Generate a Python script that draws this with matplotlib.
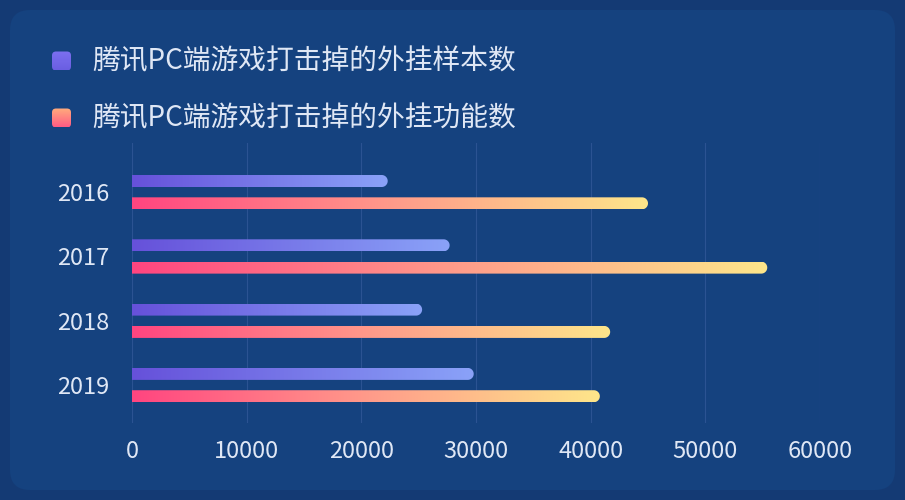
import numpy as np
import matplotlib
matplotlib.use('Agg')
from matplotlib import pyplot as plt
from matplotlib.colors import LinearSegmentedColormap
from matplotlib.patches import FancyBboxPatch, Polygon

plt.rcParams['font.family'] = ['Noto Sans CJK SC', 'DejaVu Sans']

years = ['2016', '2017', '2018', '2019']
samples = [22300, 27700, 25300, 29800]
functions = [45000, 55400, 41700, 40800]
series_names = ['腾讯PC端游戏打击掉的外挂样本数', '腾讯PC端游戏打击掉的外挂功能数']
xticks = [0, 10000, 20000, 30000, 40000, 50000, 60000]

purple = LinearSegmentedColormap.from_list('purple', ['#6651da', '#8aa2f8'])
pink = LinearSegmentedColormap.from_list('pink', ['#ff4580', '#ff9a8a', '#fde68a'])
txt_col = '#dfe7f5'

W, H = 905, 500
fig = plt.figure(figsize=(W / 100, H / 100), dpi=100)
fig.patch.set_facecolor('#143a74')

# background panel + legend
bg = fig.add_axes([0, 0, 1, 1])
bg.set_xlim(0, W)
bg.set_ylim(H, 0)
bg.axis('off')
bg.add_patch(FancyBboxPatch((10, 10), 885, 480, boxstyle='round,pad=0,rounding_size=20',
                            fc='#15427f', ec='none', zorder=0))

grad_v = np.linspace(0, 1, 64).reshape(-1, 1)
legend_maps = [LinearSegmentedColormap.from_list('lp', ['#7c70f0', '#6a5ee2']),
               LinearSegmentedColormap.from_list('lk', ['#ffac7c', '#ff5c84'])]
for i, (name, cm) in enumerate(zip(series_names, legend_maps)):
    yc = 61 + i * 57
    box = FancyBboxPatch((52, yc - 9.5), 19, 19, boxstyle='round,pad=0,rounding_size=4',
                         fc='none', ec='none')
    bg.add_patch(box)
    im = bg.imshow(grad_v, cmap=cm, extent=[52, 71, yc + 9.5, yc - 9.5], aspect='auto',
                   interpolation='bicubic', zorder=2)
    im.set_clip_path(box)
    bg.text(92, yc, name, color=txt_col, fontsize=20, va='center', ha='left')
bg.set_xlim(0, W)
bg.set_ylim(H, 0)

# chart area
ax_l, ax_r, ax_t, ax_b = 132, 820, 143, 423
ax = fig.add_axes([ax_l / W, 1 - ax_b / H, (ax_r - ax_l) / W, (ax_b - ax_t) / H])
ax.set_facecolor('none')
xmax = 60000
band_px = 64.3
ytop = -49 / band_px
ybot = ytop + (ax_b - ax_t) / band_px
px_x = (ax_r - ax_l) / xmax
half = 6 / band_px
grad_h = np.linspace(0, 1, 256).reshape(1, -1)


def round_bar(v, yc, cm):
    rx = 6 / px_x
    t = np.linspace(-np.pi / 2, np.pi / 2, 40)
    arc = np.column_stack([v - rx + rx * np.cos(t), yc + half * np.sin(t)])
    verts = np.vstack([[0, yc - half], arc, [0, yc + half]])
    poly = Polygon(verts, closed=True, fc='none', ec='none')
    ax.add_patch(poly)
    im = ax.imshow(grad_h, cmap=cm, extent=[0, v, yc + half, yc - half], aspect='auto',
                   interpolation='bicubic', zorder=3)
    im.set_clip_path(poly)


off = 11 / band_px
for i in range(len(years)):
    round_bar(samples[i], i - off, purple)
    round_bar(functions[i], i + off + 0.005, pink)

ax.set_xlim(0, xmax)
ax.set_ylim(ybot, ytop)
ax.set_xticks(xticks)
ax.set_xticklabels([str(v) for v in xticks])
ax.set_yticks(range(len(years)))
ax.set_yticklabels(years)
ax.tick_params(axis='both', length=0, colors=txt_col, labelsize=17)
ax.tick_params(axis='x', pad=12)
ax.tick_params(axis='y', pad=16)
ax.grid(axis='x', color='#2b5392', linewidth=0.8, zorder=1)
ax.set_axisbelow(True)
for s in ax.spines.values():
    s.set_visible(False)

fig.savefig('out.png', dpi=100, facecolor=fig.get_facecolor())
